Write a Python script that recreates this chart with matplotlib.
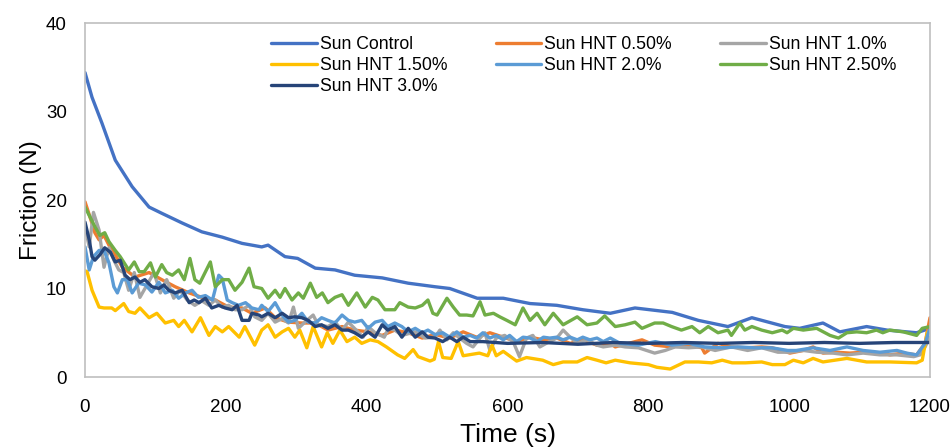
import matplotlib
matplotlib.use("Agg")
import matplotlib.pyplot as plt
from matplotlib import font_manager

names = {f.name for f in font_manager.fontManager.ttflist}
REG = "Liberation Sans" if "Liberation Sans" in names else "DejaVu Sans"
plt.rcParams["font.family"] = [REG, "DejaVu Sans"]

# ---------------- data ----------------
t_control = [0, 10, 24, 43, 67, 91, 109, 138, 166, 195, 223, 251, 260, 284, 302, 327, 355, 383,
             422, 459, 497, 518, 557, 594, 632, 670, 707, 746, 781, 834, 871, 913, 947, 994,
             1015, 1048, 1072, 1110, 1139, 1181, 1200]
v_control = [34.4, 31.6, 28.7, 24.5, 21.5, 19.2, 18.5, 17.4, 16.4, 15.8, 15.1, 14.7, 14.9, 13.6,
             13.4, 12.3, 12.1, 11.5, 11.2, 10.6, 10.2, 10.0, 8.9, 8.9, 8.3, 8.1, 7.6, 7.2, 7.8,
             7.3, 6.4, 5.7, 6.7, 5.7, 5.5, 6.1, 5.1, 5.7, 5.3, 5.0, 5.5]

t_050 = [0, 7, 14, 20, 27, 34, 43, 53, 71, 91, 109, 128, 148, 166, 185, 204, 223, 237, 256, 270,
         289, 308, 327, 345, 365, 383, 402, 422, 440, 459, 479, 497, 518, 537, 556, 575, 594, 613,
         632, 651, 670, 689, 707, 727, 746, 753, 772, 791, 809, 833, 857, 876, 880, 899, 918, 941,
         961, 976, 990, 1001, 1020, 1034, 1048, 1067, 1086, 1105, 1133, 1143, 1162, 1181, 1193, 1200]
v_050 = [19.8, 18.1, 16.3, 15.5, 16.0, 14.9, 13.8, 12.4, 11.3, 11.8, 11.0, 10.2, 9.5, 9.0, 8.7,
         7.9, 7.8, 7.2, 7.8, 6.7, 6.2, 6.1, 6.1, 5.3, 5.7, 5.3, 5.1, 4.7, 5.3, 5.0, 4.4, 4.8, 4.4,
         5.1, 4.5, 5.0, 4.5, 4.0, 4.5, 4.2, 4.4, 3.8, 4.2, 3.6, 3.8, 3.4, 3.8, 4.2, 3.6, 3.4, 3.6,
         3.3, 2.7, 3.8, 3.4, 3.3, 3.4, 3.3, 3.0, 2.7, 3.0, 3.4, 2.7, 2.8, 2.7, 2.8, 2.7, 2.5, 2.7,
         2.5, 3.8, 6.7]

t_100 = [0, 6, 12, 20, 27, 34, 41, 48, 55, 62, 70, 78, 88, 98, 107, 116, 126, 135, 145, 156, 166,
         176, 185, 195, 204, 213, 223, 233, 241, 251, 260, 270, 280, 289, 296, 303, 315, 324, 331,
         345, 355, 365, 374, 395, 402, 412, 425, 431, 440, 450, 469, 483, 497, 504, 514, 523, 532,
         542, 551, 561, 568, 575, 584, 596, 608, 617, 627, 636, 646, 655, 670, 679, 689, 699, 713,
         727, 736, 753, 767, 786, 809, 824, 838, 857, 876, 895, 918, 941, 961, 984, 1001, 1020,
         1039, 1062, 1082, 1105, 1129, 1153, 1177, 1186, 1193, 1200]
v_100 = [17.0, 14.7, 18.6, 16.6, 12.4, 14.6, 13.2, 12.1, 11.8, 9.8, 11.8, 9.0, 10.4, 11.8, 9.5,
         11.0, 8.9, 9.8, 8.7, 8.1, 8.6, 8.1, 8.7, 7.9, 8.1, 7.6, 7.6, 8.1, 6.8, 6.4, 7.2, 6.2, 6.6,
         6.1, 7.9, 5.5, 6.4, 7.0, 5.9, 5.7, 6.2, 5.3, 6.2, 4.5, 5.7, 5.0, 4.5, 5.5, 5.3, 4.7, 5.1,
         4.4, 4.5, 5.3, 4.2, 5.0, 4.4, 3.8, 3.4, 4.4, 5.0, 3.0, 4.4, 4.7, 4.0, 2.3, 4.4, 4.7, 3.4,
         3.8, 4.4, 5.3, 4.5, 3.8, 4.2, 3.6, 3.4, 3.6, 3.4, 3.3, 2.7, 3.0, 3.4, 3.3, 3.4, 3.0, 3.4,
         3.0, 3.3, 2.8, 2.8, 3.0, 2.8, 2.7, 2.5, 2.7, 2.5, 2.5, 2.3, 2.5, 3.4, 4.5]

t_150 = [0, 3, 10, 20, 27, 38, 43, 55, 62, 71, 78, 91, 102, 114, 126, 133, 141, 152, 164, 176,
         185, 195, 204, 219, 227, 241, 251, 260, 270, 280, 289, 298, 305, 315, 324, 336, 344, 352,
         362, 372, 383, 393, 405, 416, 428, 444, 454, 466, 473, 490, 496, 502, 508, 520, 530, 537,
         560, 572, 578, 584, 594, 613, 627, 650, 665, 679, 699, 713, 727, 740, 753, 774, 800, 812,
         831, 852, 871, 890, 905, 919, 938, 961, 976, 994, 1006, 1020, 1034, 1048, 1082, 1110,
         1143, 1181, 1189, 1196, 1200]
v_150 = [12.0, 11.9, 9.8, 7.9, 7.8, 7.8, 7.5, 8.3, 7.4, 7.2, 7.8, 6.7, 7.2, 6.1, 6.4, 5.7, 6.4,
         5.1, 6.7, 4.7, 5.7, 5.1, 5.7, 4.5, 5.7, 3.6, 5.3, 5.9, 4.5, 5.1, 5.5, 4.5, 5.3, 3.3, 5.7,
         3.4, 5.0, 3.8, 5.3, 4.0, 4.5, 3.8, 4.2, 4.0, 3.4, 2.5, 2.1, 3.1, 2.3, 1.8, 2.0, 4.0, 2.2,
         2.1, 4.0, 2.4, 2.7, 2.4, 3.6, 2.4, 2.9, 1.8, 2.2, 1.9, 1.4, 1.7, 1.7, 2.2, 1.9, 1.6, 1.9,
         1.6, 1.4, 1.1, 0.9, 1.7, 1.7, 1.6, 1.9, 1.6, 1.6, 1.7, 1.4, 1.4, 1.9, 1.6, 2.1, 1.7, 2.1,
         1.7, 1.7, 1.6, 1.9, 5.0, 5.3]

t_200 = [0, 6, 12, 20, 27, 34, 41, 46, 53, 60, 67, 76, 86, 95, 105, 114, 124, 133, 143, 152, 161,
         171, 181, 190, 195, 202, 209, 218, 228, 237, 247, 251, 260, 270, 280, 289, 298, 308, 317,
         327, 336, 345, 355, 365, 374, 383, 393, 402, 412, 422, 430, 440, 450, 459, 469, 479, 487,
         497, 508, 518, 528, 537, 547, 556, 565, 575, 584, 594, 603, 613, 622, 632, 642, 651, 660,
         670, 679, 689, 699, 707, 717, 727, 736, 746, 760, 786, 810, 833, 857, 880, 904, 927, 951,
         975, 998, 1010, 1034, 1058, 1082, 1105, 1129, 1153, 1167, 1181, 1193, 1199]
v_200 = [14.7, 12.1, 13.6, 14.3, 14.3, 12.9, 10.2, 9.5, 11.0, 11.0, 9.5, 10.6, 10.4, 9.6, 10.7,
         9.5, 9.8, 8.9, 9.5, 9.8, 9.0, 9.2, 8.7, 11.5, 11.1, 8.7, 8.4, 8.1, 8.4, 7.8, 7.6, 8.1, 7.4,
         8.4, 7.0, 6.2, 6.4, 7.2, 6.2, 6.1, 6.7, 6.4, 6.1, 7.0, 6.4, 6.2, 6.4, 5.5, 6.2, 6.4, 5.7,
         6.1, 5.7, 5.1, 5.5, 5.0, 5.3, 4.8, 5.0, 4.5, 5.1, 4.5, 4.7, 4.4, 5.0, 4.4, 4.7, 4.2, 4.7,
         4.0, 4.5, 4.4, 4.0, 4.5, 4.4, 4.5, 4.2, 4.5, 4.2, 4.5, 4.2, 4.4, 4.0, 4.4, 3.8, 3.6, 4.0,
         3.6, 3.8, 3.4, 3.3, 3.4, 3.3, 3.3, 3.0, 3.0, 3.3, 3.0, 3.4, 3.0, 2.8, 3.0, 2.7, 2.5, 3.8,
         5.3]

t_250 = [0, 7, 14, 21, 28, 34, 43, 50, 62, 70, 77, 84, 93, 100, 109, 116, 124, 133, 141, 149, 156,
         163, 178, 185, 195, 204, 213, 223, 233, 240, 251, 260, 270, 277, 284, 294, 303, 310, 320,
         329, 337, 345, 355, 365, 374, 386, 398, 408, 416, 426, 440, 447, 459, 469, 479, 487, 494,
         500, 514, 523, 532, 542, 551, 561, 568, 580, 589, 599, 611, 622, 632, 642, 653, 665, 679,
         699, 713, 727, 738, 753, 767, 781, 791, 809, 821, 833, 847, 862, 873, 885, 899, 913, 918,
         930, 937, 947, 961, 976, 990, 997, 1006, 1020, 1039, 1058, 1070, 1082, 1096, 1110, 1124,
         1133, 1143, 1162, 1181, 1189, 1200]
v_250 = [19.2, 18.1, 17.0, 16.0, 16.3, 15.3, 14.3, 13.6, 12.1, 13.0, 11.9, 11.9, 12.9, 11.3, 12.7,
         11.8, 11.5, 12.1, 11.0, 13.4, 11.0, 10.6, 13.0, 10.2, 11.0, 11.0, 9.8, 10.7, 12.3, 10.2,
         10.0, 8.9, 9.8, 9.0, 10.0, 8.7, 9.5, 8.9, 10.6, 9.0, 9.5, 8.4, 9.0, 9.3, 8.1, 9.5, 7.9,
         9.0, 8.7, 7.6, 7.6, 8.4, 7.9, 7.8, 8.1, 8.7, 7.2, 7.0, 8.9, 7.9, 7.0, 7.0, 6.9, 8.5, 7.0,
         7.2, 6.8, 6.4, 5.9, 7.8, 6.4, 7.2, 5.9, 7.2, 5.9, 6.8, 5.9, 6.1, 6.9, 5.7, 5.9, 6.2, 5.5,
         6.1, 6.1, 5.7, 5.3, 5.7, 5.0, 5.7, 5.0, 5.3, 4.7, 6.1, 5.3, 5.7, 5.3, 5.0, 5.3, 5.0, 5.5,
         5.3, 5.5, 4.7, 4.4, 5.0, 5.1, 5.0, 5.3, 5.0, 5.3, 5.1, 4.7, 5.5, 5.7]

t_300 = [0, 6, 10, 14, 21, 28, 36, 43, 50, 57, 64, 71, 78, 85, 95, 105, 112, 119, 128, 138, 148,
         155, 162, 171, 180, 190, 199, 209, 216, 223, 233, 237, 247, 251, 260, 270, 280, 289, 298,
         308, 317, 327, 336, 345, 355, 365, 374, 383, 393, 402, 412, 422, 430, 440, 450, 459, 469,
         479, 487, 497, 508, 518, 528, 537, 547, 565, 600, 650, 700, 750, 800, 850, 900, 950, 1000,
         1050, 1100, 1150, 1200]
v_300 = [17.5, 15.5, 13.6, 13.2, 13.8, 14.6, 14.1, 13.0, 13.2, 11.5, 11.0, 11.3, 10.7, 11.0, 10.2,
         10.0, 10.4, 9.8, 9.5, 9.8, 8.4, 8.7, 8.4, 8.9, 7.8, 8.1, 7.8, 7.6, 8.1, 6.4, 6.4, 7.2, 7.0,
         6.8, 7.2, 6.7, 7.2, 6.7, 6.8, 6.7, 6.4, 5.7, 5.9, 5.5, 5.9, 5.3, 5.3, 5.0, 4.5, 5.1, 4.5,
         5.9, 5.3, 5.7, 4.5, 5.5, 4.5, 5.1, 4.5, 4.4, 4.0, 4.5, 4.0, 4.5, 4.0, 4.0, 3.8, 3.9, 3.7,
         3.9, 3.8, 3.9, 3.8, 3.9, 3.8, 3.9, 3.8, 3.9, 3.9]

labels = ["Sun Control", "Sun HNT 0.50%", "Sun HNT 1.0%", "Sun HNT 1.50%",
          "Sun HNT 2.0%", "Sun HNT 2.50%", "Sun HNT 3.0%"]
colors = ["#4472C4", "#ED7D31", "#A5A5A5", "#FFC000", "#5B9BD5", "#70AD47", "#264478"]
series = [(t_control, v_control), (t_050, v_050), (t_100, v_100), (t_150, v_150),
          (t_200, v_200), (t_250, v_250), (t_300, v_300)]

x_ticks = [0, 200, 400, 600, 800, 1000, 1200]
y_ticks = [0, 10, 20, 30, 40]

# ---------------- plot ----------------
fig = plt.figure(figsize=(9.53, 4.48), dpi=100)
ax = fig.add_axes([85 / 953, 1 - 377 / 448, (930 - 85) / 953, (377 - 23) / 448])

handles = []
for (t, v), lab, c in zip(series, labels, colors):
    h, = ax.plot(t, v, color=c, lw=2.4, label=lab, solid_joinstyle="round",
                 solid_capstyle="round")
    handles.append(h)

ax.set_xlim(0, 1200)
ax.set_ylim(0, 40)
ax.set_xticks(x_ticks)
ax.set_yticks(y_ticks)
ax.tick_params(length=0, colors="#000000", labelsize=13.5)
ax.tick_params(axis="x", pad=16)
ax.tick_params(axis="y", pad=13)
for s in ax.spines.values():
    s.set_color("#BFBFBF")
    s.set_linewidth(1.2)

ax.set_xlabel("Time (s)", fontsize=19, labelpad=5)
ax.set_ylabel("Friction (N)", fontsize=17.5, labelpad=3)

order = [0, 3, 6, 1, 4, 2, 5]
leg = ax.legend([handles[i] for i in order], [labels[i] for i in order],
                ncol=3, loc="upper left", bbox_to_anchor=(271 / 953, 1 - 36 / 448),
                bbox_transform=fig.transFigure, frameon=False, fontsize=12.7,
                handlelength=2.6, handletextpad=0.15, labelspacing=0.22,
                columnspacing=2.75, borderpad=0, borderaxespad=0)

fig.savefig("out.png", dpi=100)
